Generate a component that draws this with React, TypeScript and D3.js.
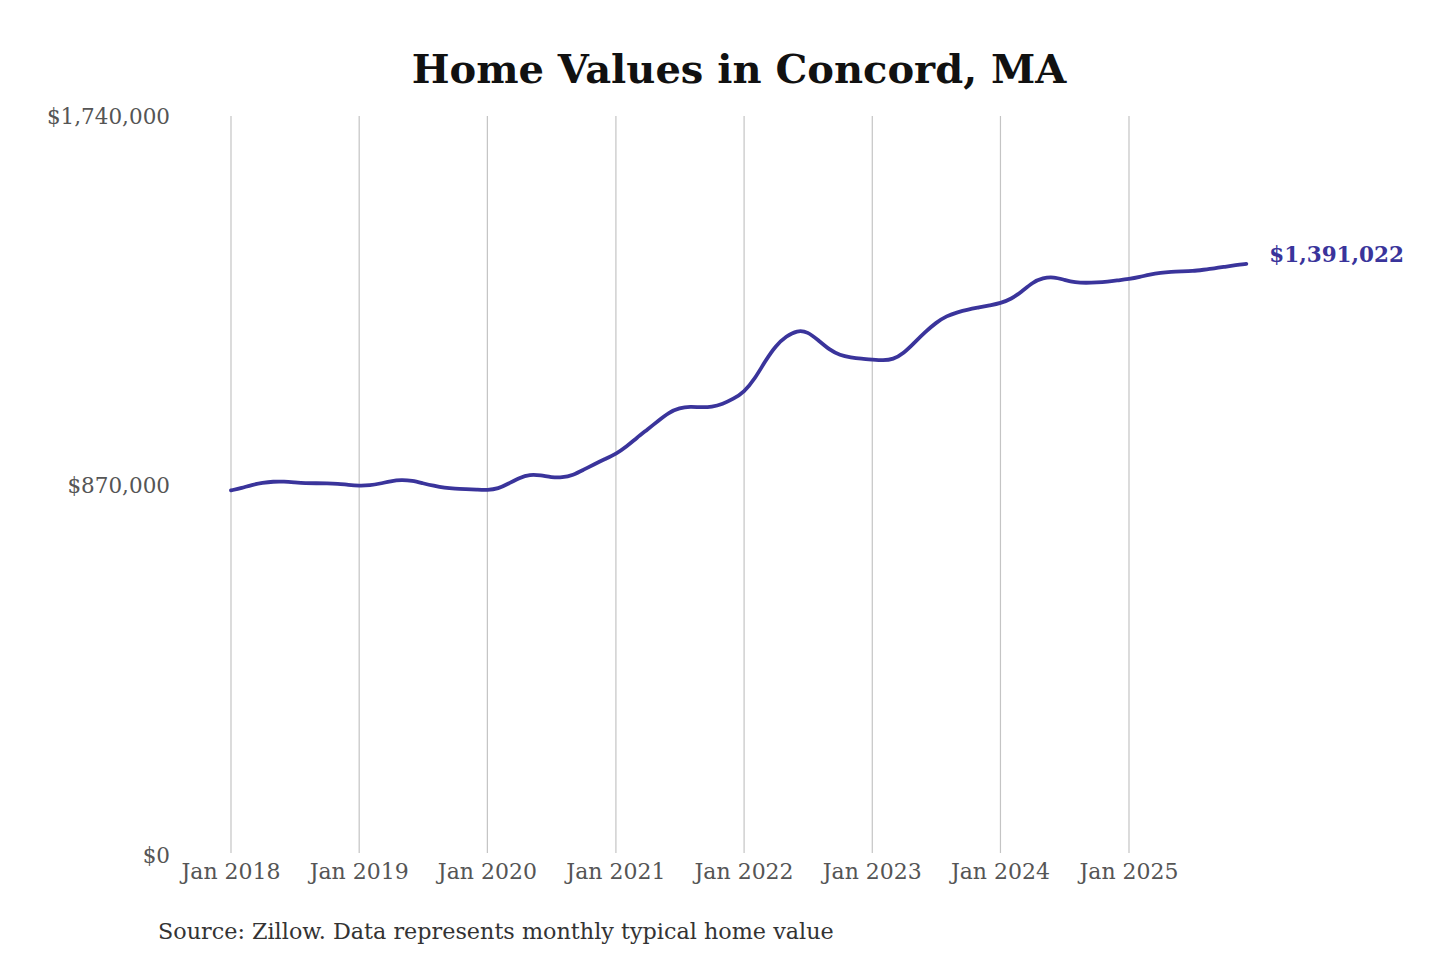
import React from "react";
import * as d3 from "d3";

const years = [2018, 2019, 2020, 2021, 2022, 2023, 2024, 2025];
const values2018 = [856000, 862000, 869000, 874000, 877000, 877000, 875000, 873000, 873000, 873000, 872000, 869000];
const values2019 = [867000, 868000, 872000, 878000, 881000, 879000, 873000, 867000, 862000, 860000, 859000, 858000];
const values2020 = [856500, 860000, 872000, 886000, 894000, 892000, 887000, 886000, 892000, 905000, 918000, 930000];
const values2021 = [942000, 960000, 980000, 1000000, 1020000, 1040000, 1051000, 1054000, 1052000, 1053000, 1060000, 1072000];
const values2022 = [1088000, 1120000, 1160000, 1198000, 1220000, 1234000, 1231000, 1210000, 1188000, 1175000, 1170000, 1167000];
const values2023 = [1165000, 1163000, 1165000, 1180000, 1205000, 1230000, 1252000, 1268000, 1277000, 1283000, 1288000, 1293000];
const values2024 = [1298000, 1308000, 1325000, 1347000, 1358000, 1360000, 1353000, 1347000, 1346000, 1347000, 1349000, 1352000];
const values2025 = [1355000, 1360000, 1366000, 1370000, 1372000, 1373000, 1374000, 1377000, 1380000, 1384000, 1388000, 1391022];

const yTicks = [0, 870000, 1740000];
const title = "Home Values in Concord, MA";
const source = "Source: Zillow. Data represents monthly typical home value";

const allYears = [values2018, values2019, values2020, values2021, values2022, values2023, values2024, values2025];
const data = allYears.flatMap((arr, yi) =>
  arr.map((v, m) => ({ date: new Date(years[yi], m, 1), value: v }))
);

const FONT = "'DejaVu Serif', serif";
const LINE_COLOR = "#3a349b";

export default function App() {
  const x = d3
    .scaleTime()
    .domain([new Date(2018, 0, 1), new Date(2025, 0, 1)])
    .range([231, 1129]);
  const y = d3.scaleLinear().domain([0, 1740000]).range([853, 116]);
  const line = d3
    .line<{ date: Date; value: number }>()
    .x((d) => x(d.date))
    .y((d) => y(d.value))
    .curve(d3.curveBasis);
  const fmt = d3.format("$,.0f");
  const last = data[data.length - 1];
  const xTicks = years.map((yr) => new Date(yr, 0, 1));

  return (
    <svg
      width={1440}
      height={960}
      style={{ position: "absolute", left: 0, top: 0, background: "#fff" }}
    >
      <text
        x={739}
        y={83}
        textAnchor="middle"
        fontFamily={FONT}
        fontWeight="bold"
        fontSize={40}
        fill="#111"
      >
        {title}
      </text>
      {xTicks.map((d) => (
        <line
          key={d.getFullYear()}
          x1={x(d)}
          x2={x(d)}
          y1={116}
          y2={853}
          stroke="#c4c4c4"
          strokeWidth={1.2}
        />
      ))}
      {xTicks.map((d) => (
        <text
          key={"t" + d.getFullYear()}
          x={x(d)}
          y={879}
          textAnchor="middle"
          fontFamily={FONT}
          fontSize={22}
          fill="#555"
        >
          {d3.timeFormat("Jan %Y")(d)}
        </text>
      ))}
      {yTicks.map((v) => (
        <text
          key={v}
          x={170}
          y={y(v) + (v === 0 ? 10 : 8)}
          textAnchor="end"
          fontFamily={FONT}
          fontSize={21.5}
          fill="#555"
        >
          {fmt(v)}
        </text>
      ))}
      <path
        d={line(data) || ""}
        fill="none"
        stroke={LINE_COLOR}
        strokeWidth={3.8}
        strokeLinecap="round"
        strokeLinejoin="round"
      />
      <text
        x={x(last.date) + 23}
        y={y(last.value) - 2}
        fontFamily={FONT}
        fontWeight="bold"
        fontSize={21.5}
        fill={LINE_COLOR}
      >
        {fmt(last.value)}
      </text>
      <text
        x={158}
        y={939}
        fontFamily={FONT}
        fontSize={22.3}
        fill="#333"
      >
        {source}
      </text>
    </svg>
  );
}
